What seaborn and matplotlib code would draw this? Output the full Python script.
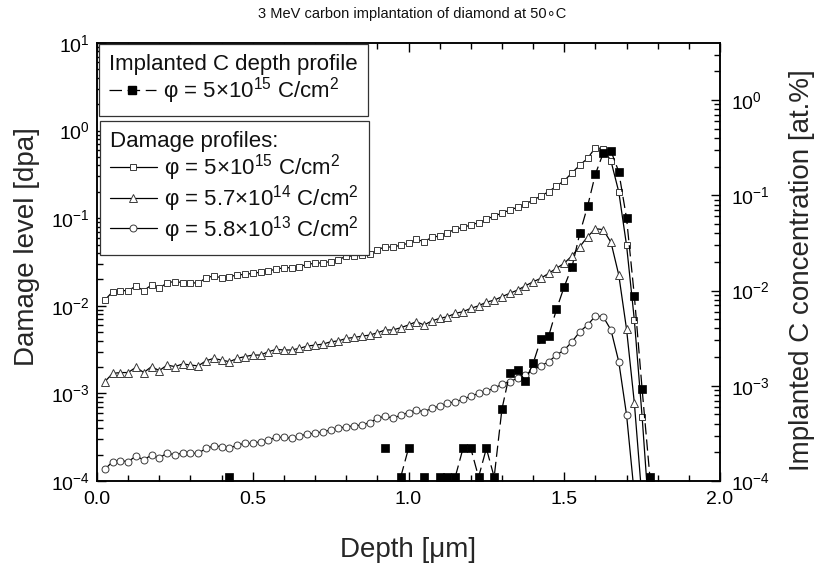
import numpy as np
import pandas as pd
import matplotlib
matplotlib.use("Agg")
import matplotlib.pyplot as plt
import seaborn as sns
from matplotlib.lines import Line2D
from matplotlib.ticker import (FixedLocator, MultipleLocator, LogFormatterSciNotation,
                               NullFormatter, FormatStrFormatter)

# ---------------- data ----------------
depth_um = [0.025, 0.05, 0.075, 0.1, 0.125, 0.15, 0.175, 0.2, 0.225, 0.25,
            0.275, 0.3, 0.325, 0.35, 0.375, 0.4, 0.425, 0.45, 0.475, 0.5,
            0.525, 0.55, 0.575, 0.6, 0.625, 0.65, 0.675, 0.7, 0.725, 0.75,
            0.775, 0.8, 0.825, 0.85, 0.875, 0.9, 0.925, 0.95, 0.975, 1.0,
            1.025, 1.05, 1.075, 1.1, 1.125, 1.15, 1.175, 1.2, 1.225, 1.25,
            1.275, 1.3, 1.325, 1.35, 1.375, 1.4, 1.425, 1.45, 1.475, 1.5,
            1.525, 1.55, 1.575, 1.6, 1.625, 1.65, 1.675, 1.7, 1.725, 1.75,
            1.775]

damage_5e15 = [0.0116, 0.0145, 0.0149, 0.0149, 0.0168, 0.0149, 0.0173, 0.0158, 0.0184, 0.0189,
               0.0184, 0.0184, 0.0181, 0.0209, 0.0219, 0.0209, 0.0215, 0.0225, 0.0228, 0.0235,
               0.0242, 0.0250, 0.0262, 0.0272, 0.0272, 0.0280, 0.0297, 0.0306, 0.0310, 0.0320,
               0.0334, 0.0370, 0.0370, 0.0380, 0.0390, 0.0434, 0.0473, 0.0466, 0.0494, 0.0516,
               0.0574, 0.0540, 0.0605, 0.0627, 0.0684, 0.0747, 0.0787, 0.0836, 0.0890, 0.0970,
               0.106, 0.114, 0.124, 0.133, 0.145, 0.161, 0.179, 0.201, 0.233, 0.268,
               0.330, 0.404, 0.482, 0.640, 0.620, 0.450, 0.200, 0.049, 0.0069, 0.00054,
               0.00003]

damage_57e14 = [1.36e-3, 1.69e-3, 1.73e-3, 1.73e-3, 1.99e-3, 1.73e-3, 2.02e-3, 1.82e-3, 2.11e-3, 2.02e-3,
                2.17e-3, 2.11e-3, 2.06e-3, 2.36e-3, 2.51e-3, 2.40e-3, 2.30e-3, 2.51e-3, 2.63e-3, 2.74e-3,
                2.74e-3, 2.99e-3, 3.18e-3, 3.13e-3, 3.13e-3, 3.27e-3, 3.47e-3, 3.56e-3, 3.65e-3, 3.88e-3,
                3.98e-3, 4.24e-3, 4.35e-3, 4.50e-3, 4.63e-3, 4.92e-3, 5.30e-3, 5.30e-3, 5.62e-3, 6.04e-3,
                6.59e-3, 6.04e-3, 6.71e-3, 7.20e-3, 7.50e-3, 8.20e-3, 8.57e-3, 9.35e-3, 1.00e-2, 1.10e-2,
                1.16e-2, 1.27e-2, 1.39e-2, 1.51e-2, 1.69e-2, 1.88e-2, 2.06e-2, 2.35e-2, 2.68e-2, 3.06e-2,
                3.73e-2, 4.73e-2, 6.15e-2, 7.60e-2, 7.40e-2, 5.30e-2, 2.25e-2, 5.40e-3, 7.80e-4, 6.0e-5,
                3.0e-6]

damage_58e13 = [1.36e-4, 1.66e-4, 1.71e-4, 1.66e-4, 1.93e-4, 1.74e-4, 1.98e-4, 1.82e-4, 2.10e-4, 1.98e-4,
                2.10e-4, 2.07e-4, 2.07e-4, 2.36e-4, 2.51e-4, 2.47e-4, 2.36e-4, 2.58e-4, 2.69e-4, 2.69e-4,
                2.81e-4, 2.94e-4, 3.15e-4, 3.15e-4, 3.07e-4, 3.26e-4, 3.44e-4, 3.50e-4, 3.65e-4, 3.82e-4,
                3.99e-4, 4.17e-4, 4.25e-4, 4.36e-4, 4.63e-4, 5.19e-4, 5.52e-4, 5.20e-4, 5.66e-4, 6.03e-4,
                6.45e-4, 6.18e-4, 6.75e-4, 7.18e-4, 7.70e-4, 8.04e-4, 8.55e-4, 9.33e-4, 1.00e-3, 1.07e-3,
                1.14e-3, 1.28e-3, 1.36e-3, 1.49e-3, 1.62e-3, 1.85e-3, 2.06e-3, 2.30e-3, 2.74e-3, 3.13e-3,
                3.89e-3, 5.07e-3, 6.04e-3, 7.66e-3, 7.50e-3, 5.30e-3, 2.30e-3, 5.70e-4, 7.0e-5, 6.0e-6,
                3.0e-7]

nan = np.nan
implanted_at_pct = [nan, nan, nan, nan, nan, nan, nan, nan, nan, nan,
                    nan, nan, nan, nan, nan, nan, 1.1e-4, nan, nan, nan,
                    nan, nan, nan, nan, nan, nan, nan, nan, nan, nan,
                    nan, nan, nan, nan, nan, nan, 2.2e-4, nan, 1.1e-4, 2.2e-4,
                    nan, 1.1e-4, nan, 1.1e-4, 1.1e-4, 1.1e-4, 2.2e-4, 2.2e-4, 1.1e-4, 2.2e-4,
                    1.1e-4, 5.7e-4, 1.36e-3, 1.47e-3, 1.13e-3, 1.72e-3, 3.08e-3, 3.33e-3, 6.35e-3, 0.011,
                    0.0178, 0.040, 0.077, 0.167, 0.277, 0.292, 0.177, 0.0575, 0.0088, 9.2e-4,
                    1.1e-4]

damage_labels = [r"φ = 5×10$^{15}$ C/cm$^{2}$",
                 r"φ = 5.7×10$^{14}$ C/cm$^{2}$",
                 r"φ = 5.8×10$^{13}$ C/cm$^{2}$"]
implanted_label = r"φ = 5×10$^{15}$ C/cm$^{2}$"
title_text = "3 MeV carbon implantation of diamond at 50∘C"

# ---------------- style ----------------
sns.set_theme(style="ticks")
plt.rcParams.update({
    "font.family": ["Liberation Sans", "DejaVu Sans"],
    "mathtext.fontset": "custom",
    "mathtext.rm": "Liberation Sans",
    "mathtext.it": "Liberation Sans:italic",
    "mathtext.bf": "Liberation Sans:bold",
    "mathtext.sf": "Liberation Sans",
    "axes.edgecolor": "black",
    "axes.linewidth": 1.1,
    "axes.axisbelow": False,
    "text.color": "#111111",
    "xtick.color": "black",
    "ytick.color": "black",
    "xtick.direction": "in",
    "ytick.direction": "in",
    "xtick.top": True,
    "xtick.bottom": True,
    "ytick.left": True,
    "ytick.right": True,
    "xtick.major.size": 6.5,
    "ytick.major.size": 6.5,
    "xtick.minor.size": 4,
    "ytick.minor.size": 4,
    "xtick.major.width": 1.0,
    "ytick.major.width": 1.0,
    "xtick.minor.width": 1.0,
    "ytick.minor.width": 1.0,
    "xtick.major.pad": 7,
    "xtick.minor.pad": 7,
    "ytick.major.pad": 5,
    "ytick.minor.pad": 5,
    "xtick.labelsize": 14,
    "ytick.labelsize": 14,
})

W, H = 818, 568
fig = plt.figure(figsize=(W / 100, H / 100), dpi=100)
ax = fig.add_axes([97 / W, 1 - 481 / H, 623 / W, 438 / H])
ax2 = ax.twinx()
ax.set_axisbelow(False)
ax2.set_axisbelow(False)

df = pd.DataFrame({"depth": depth_um,
                   "d1": damage_5e15, "d2": damage_57e14, "d3": damage_58e13,
                   "imp": implanted_at_pct})

line_kw = dict(color="black", linewidth=0.9, markerfacecolor="white",
               markeredgecolor="#3a3a3a", markeredgewidth=0.7, legend=False)
markers = ["s", "^", "o"]
sizes = [4.8, 5.4, 5.0]
for col, mk, ms in zip(["d1", "d2", "d3"], markers, sizes):
    sns.lineplot(data=df, x="depth", y=col, ax=ax, marker=mk, markersize=ms,
                 sort=False, **line_kw)

imp = df[["depth", "imp"]].copy()
imp["seg"] = imp["imp"].isna().cumsum()
imp = imp.dropna()
dash = (0, (9, 4))
sns.lineplot(data=imp, x="depth", y="imp", units="seg", estimator=None, ax=ax2,
             color="black", linewidth=0.9, linestyle=dash, marker="s", markersize=6.2,
             markerfacecolor="black", markeredgecolor="black", markeredgewidth=0.5,
             legend=False, sort=False)

# ---------------- axes ----------------
ax.set_yscale("log")
ax2.set_yscale("log")
ax.set_xlim(0.0, 2.0)
ax.set_ylim(1e-4, 10)
ax2.set_ylim(1e-4, 10 ** 0.6)

ax.xaxis.set_major_locator(MultipleLocator(0.5))
ax.xaxis.set_minor_locator(MultipleLocator(0.1))
ax.xaxis.set_major_formatter(FormatStrFormatter("%.1f"))

major_y = [10.0 ** e for e in range(-4, 2)]
minor_y = [m * 10.0 ** e for e in range(-4, 1) for m in range(2, 10)]
for a in (ax, ax2):
    a.yaxis.set_major_locator(FixedLocator(major_y))
    a.yaxis.set_minor_locator(FixedLocator(minor_y))
    a.yaxis.set_major_formatter(LogFormatterSciNotation())
    a.yaxis.set_minor_formatter(NullFormatter())
ax.yaxis.tick_left()
ax2.yaxis.tick_right()
ax2.tick_params(axis="y", which="both", pad=8)
ax.xaxis.set_zorder(3)
ax.yaxis.set_zorder(3)
ax2.yaxis.set_zorder(3)

ax.set_xlabel("Depth [μm]", fontsize=20)
ax.set_ylabel("Damage level [dpa]", fontsize=20)
ax2.set_ylabel("Implanted C concentration [at.%]", fontsize=20)
ax.xaxis.set_label_coords(0.5, (481 - 537) / 438)
ax.yaxis.set_label_coords((40 - 97) / 623, (481 - 247) / 438)
ax2.yaxis.set_label_coords((789 - 97) / 623, (481 - 270) / 438)

fig.text(412 / W, 1 - 14 / H, title_text, ha="center", va="center", fontsize=10.5)

# ---------------- legends ----------------
h_imp = Line2D([], [], color="black", linewidth=0.9, linestyle=(0, (10, 4.5)), marker="s",
               markersize=6.2, markerfacecolor="black", markeredgecolor="black")
h_dmg = [Line2D([], [], color="black", linewidth=0.9, marker=mk, markersize=ms,
                markerfacecolor="white", markeredgecolor="#3a3a3a", markeredgewidth=0.7)
         for mk, ms in zip(markers, sizes)]

leg_kw = dict(loc="upper left", bbox_transform=fig.transFigure, borderaxespad=0,
              frameon=True, fancybox=False, framealpha=1, edgecolor="#333333",
              fontsize=16, title_fontsize=16, alignment="left", handlelength=2.1,
              handletextpad=0.35, borderpad=0.45, labelspacing=0.0)
leg1 = ax2.legend(handles=[h_imp], labels=[implanted_label], title="Implanted C depth profile",
                  bbox_to_anchor=(99 / W, 1 - 44 / H), **leg_kw)
leg1.get_frame().set_linewidth(0.9)
ax2.add_artist(leg1)
leg2 = ax2.legend(handles=h_dmg, labels=damage_labels, title="Damage profiles:",
                  bbox_to_anchor=(100 / W, 1 - 121 / H), **leg_kw)
leg2.get_frame().set_linewidth(0.9)

fig.savefig("out.png", dpi=100)
